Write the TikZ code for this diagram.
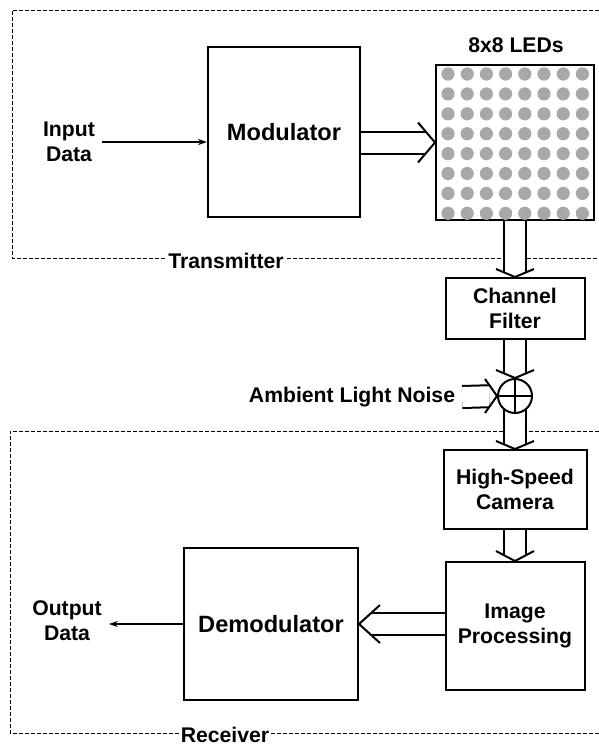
\documentclass[tikz,border=0pt]{standalone}
\usepackage{fontspec}
\setmainfont{Liberation Sans}
\usetikzlibrary{arrows.meta}
\definecolor{ledgray}{HTML}{A8A8A8}
\pgfdeclarelayer{bg}
\pgfsetlayers{bg,main}

\begin{document}
\begin{tikzpicture}[x=0.5pt, y=-0.5pt, >={Stealth[length=4.5pt,width=3pt]},
  block/.style={draw, line width=1pt, align=center, inner sep=2pt},
  bigfont/.style={font=\fontsize{11.8}{14}\selectfont\bfseries},
  smallfont/.style={font=\fontsize{10.6}{12.5}\selectfont\bfseries, align=center},
  pipe/.style={line width=1pt, double, double distance=10pt},
  chev/.style={line width=1pt},
  region/.style={line width=0.5pt, dash pattern=on 2pt off 1pt}]
  \useasboundingbox (0,0) rectangle (599,751);

  % Dashed regions
  \begin{pgfonlayer}{bg}
    \draw[region] (599,10) -| (12,258) -- (599,258);
    \draw[region] (599,431) -| (10,733) -- (599,733);
  \end{pgfonlayer}

  % Transmitter side
  \node[block, bigfont, minimum width=76pt, minimum height=85pt] (mod) at (284,132) {Modulator};
  \node[block, minimum width=79pt, minimum height=77.5pt] (led) at (515,142.5) {};
  \foreach \i in {0,...,7}
    \foreach \j in {0,...,7}
      \fill[ledgray] (448+19.2*\i, 74+19.9*\j) circle (3.3pt);
  \node[smallfont] (ledlbl) at (516,45) {8x8 LEDs};
  \node[smallfont] (inp) at (69,142) {Input\\Data};
  \node[smallfont, fill=white, inner sep=1pt] (tx) at (226,261) {Transmitter};

  % Channel
  \node[block, smallfont, minimum width=69.5pt, minimum height=30.5pt] (chan) at (515,308.5) {Channel\\Filter};
  \node[circle, draw, line width=1pt, fill=white, minimum size=17pt, inner sep=0pt] (sum) at (515,396) {};
  \draw[line width=1pt] (sum.north) -- (sum.south) (sum.west) -- (sum.east);
  \node[smallfont] (noise) at (352,397) {Ambient Light Noise};

  % Receiver side
  \node[block, smallfont, minimum width=71.5pt, minimum height=39.5pt] (cam) at (515,489.5) {High-Speed\\Camera};
  \node[block, smallfont, minimum width=69.5pt, minimum height=64pt] (proc) at (515,626) {Image\\Processing};
  \node[block, bigfont, minimum width=87pt, minimum height=76pt] (demod) at (271,624) {Demodulator};
  \node[smallfont] (outp) at (67,621) {Output\\Data};
  \node[smallfont, fill=white, inner sep=1pt] (rx) at (225,735) {Receiver};

  % Single arrows
  \draw[->, line width=0.8pt] (inp.east) -- (inp.east -| mod.west);
  \draw[->, line width=0.8pt] (demod.west) -- (demod.west -| outp.east);

  % Double arrows
  \draw[pipe, shorten >=5pt] (led.west -| mod.east) -- (led.west);
  \draw[chev] ([shift={(-17,-20)}]led.west) -- (led.west) -- ([shift={(-17,20)}]led.west);
  \draw[pipe, shorten >=2.3pt] (led.south) -- (chan.north);
  \draw[chev] ([shift={(-19,-8)}]chan.north) -- (chan.north) -- ([shift={(19,-8)}]chan.north);
  \draw[pipe, shorten >=2.3pt] (chan.south) -- (sum.north);
  \draw[chev] ([shift={(-19,-8)}]sum.north) -- (sum.north) -- ([shift={(19,-8)}]sum.north);
  \draw[pipe, shorten >=3.9pt] (noise.east) -- (sum.west);
  \draw[chev] ([shift={(-12,-17)}]sum.west) -- (sum.west) -- ([shift={(-12,17)}]sum.west);
  \begin{pgfonlayer}{bg}
    \draw[pipe, shorten >=2.3pt] (sum.center) -- (cam.north);
  \end{pgfonlayer}
  \draw[chev] ([shift={(-19,-8)}]cam.north) -- (cam.north) -- ([shift={(19,-8)}]cam.north);
  \draw[pipe, shorten >=2.9pt] (cam.south) -- (proc.north);
  \draw[chev] ([shift={(-19,-10)}]proc.north) -- (proc.north) -- ([shift={(19,-10)}]proc.north);
  \draw[pipe, shorten >=5.8pt] (demod.east -| proc.west) -- (demod.east);
  \draw[chev] ([shift={(21,-19)}]demod.east) -- (demod.east) -- ([shift={(21,19)}]demod.east);
\end{tikzpicture}
\end{document}
